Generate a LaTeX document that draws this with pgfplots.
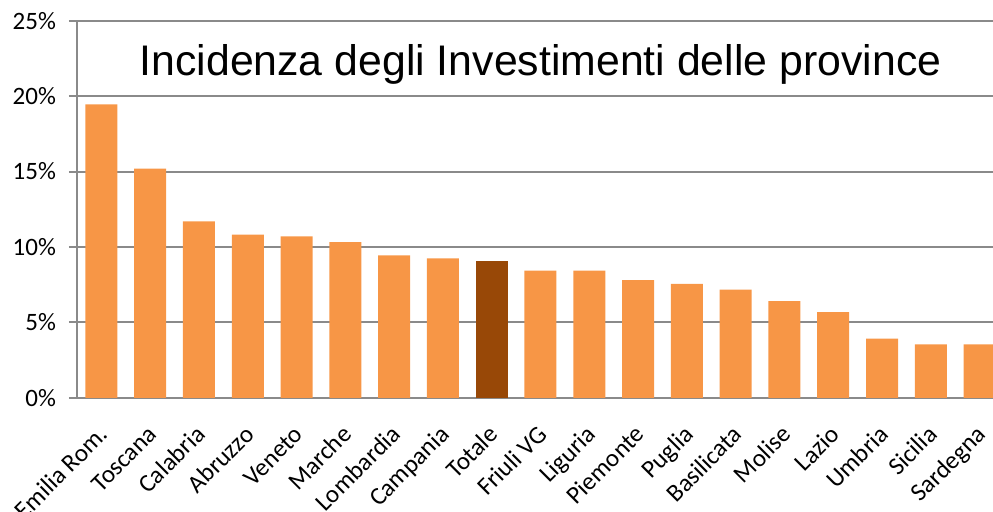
\documentclass[border=0pt]{standalone}
\usepackage{fontspec}
\setmainfont{Carlito}
\newfontfamily\arialfont{Liberation Sans}
\usepackage{pgfplots}
\pgfplotsset{compat=1.18}
\usetikzlibrary{calc}
\definecolor{barorange}{HTML}{F79646}
\definecolor{bardark}{HTML}{984807}
\definecolor{gridgray}{HTML}{8A8A8A}
\begin{document}
\begin{tikzpicture}
\begin{axis}[
  scale only axis, width=463.5pt, height=188.6pt,
  xmin=-0.5, xmax=18.5, ymin=0, ymax=25,
  axis x line*=bottom, axis y line*=left,
  axis line style={gridgray, line width=1pt, -},
  every tick/.style={gridgray, line width=1pt},
  tick align=outside,
  ytick={0,5,...,25},
  yticklabel={\pgfmathprintnumber{\tick}\%},
  major tick length=4pt,
  ymajorgrids, grid style={gridgray, line width=1pt},
  xtick={0,...,18},
  xticklabels={Emilia Rom., Toscana, Calabria, Abruzzo, Veneto, Marche, Lombardia, Campania, Totale, Friuli VG, Liguria, Piemonte, Puglia, Basilicata, Molise, Lazio, Umbria, Sicilia, Sardegna},
  x tick style={draw=none},
  minor xtick={-0.5,0.5,...,18.5},
  minor x tick style={gridgray, line width=1pt},
  minor tick length=3pt,
  /pgf/number format/assume math mode=true,
  tick label style={font=\fontsize{12.5}{14}\selectfont},
  xticklabel style={xshift=4pt, yshift=-15pt, rotate=45, anchor=base east, inner sep=0pt},
  yticklabel style={xshift=-3pt},
  ybar, bar width=16pt, bar shift=0pt,
]
\addplot[fill=barorange, draw=none] coordinates {
  (0,19.46) (1,15.2) (2,11.7) (3,10.82) (4,10.7) (5,10.33) (6,9.44) (7,9.24)
  (9,8.43) (10,8.43) (11,7.81) (12,7.56) (13,7.17) (14,6.42) (15,5.69)
  (16,3.92) (17,3.54) (18,3.54)
};
\addplot[fill=bardark, draw=none] coordinates {(8,9.07)};
\node[anchor=base, inner sep=0pt, font=\arialfont\fontsize{21.4}{25}\selectfont] at (axis cs:9,21.4) {Incidenza degli Investimenti delle province};
\end{axis}
\pgfresetboundingbox
\path ($(current axis.south west)+(-38.5pt,-57pt)$) rectangle ($(current axis.south west)+(458pt,198.95pt)$);
\end{tikzpicture}
\end{document}
